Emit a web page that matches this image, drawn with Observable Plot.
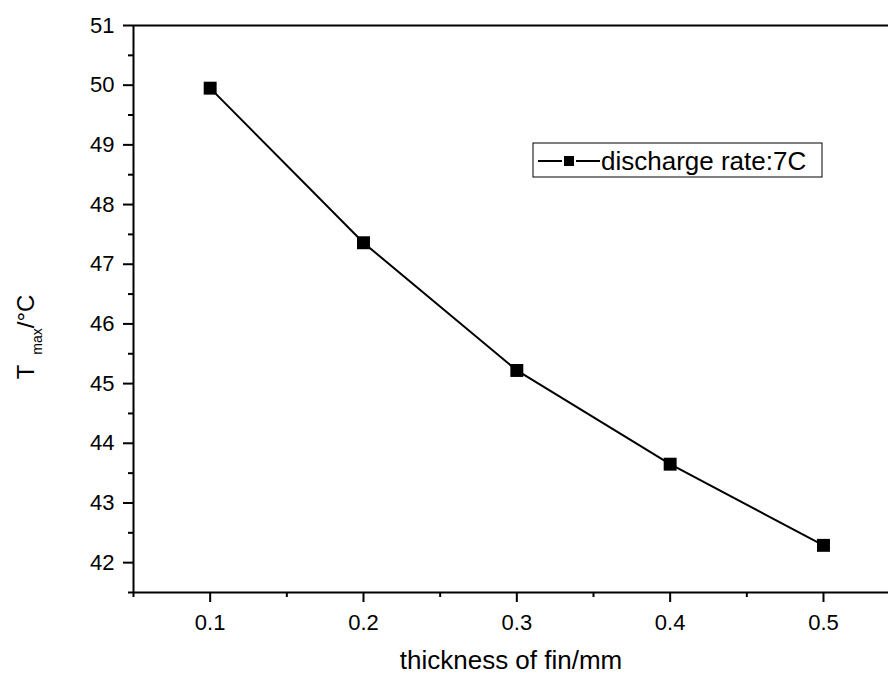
<!DOCTYPE html>
<html>
<head>
<meta charset="utf-8">
<script src="https://cdn.jsdelivr.net/npm/d3@7"></script>
<script src="https://cdn.jsdelivr.net/npm/@observablehq/plot@0.6"></script>
<style>
  html, body { margin: 0; padding: 0; background: #fff; }
  #chart { width: 888px; height: 675px; overflow: hidden; }
</style>
</head>
<body>
<div id="chart"></div>
<script>
// Data
const thickness = [0.1, 0.2, 0.3, 0.4, 0.5];
const tmax = [49.95, 47.36, 45.22, 43.65, 42.29];
const seriesName = "discharge rate:7C";

// Axis ticks
const xMajorTicks = [0.1, 0.2, 0.3, 0.4, 0.5];
const xMinorTicks = [0.05, 0.15, 0.25, 0.35, 0.45];
const yMajorTicks = [42, 43, 44, 45, 46, 47, 48, 49, 50, 51];
const yMinorTicks = [41.5, 42.5, 43.5, 44.5, 45.5, 46.5, 47.5, 48.5, 49.5, 50.5];
const xDomain = [0.05, 0.5424];
const yDomain = [41.5, 51];
const xTitle = "thickness of fin/mm";

const data = thickness.map((t, i) => ({thickness: t, tmax: tmax[i]}));
const font = "'Liberation Sans', Arial, sans-serif";

const plot = Plot.plot({
  width: 888,
  height: 675,
  marginLeft: 133,
  marginRight: 0,
  marginTop: 25,
  marginBottom: 83,
  style: {fontFamily: font, background: "#fff", color: "#000", overflow: "hidden"},
  x: {domain: xDomain},
  y: {domain: yDomain},
  marks: [
    Plot.ruleY([yDomain[0]], {stroke: "#000", strokeWidth: 2}),
    Plot.ruleY([yDomain[1]], {stroke: "#000", strokeWidth: 2}),
    Plot.ruleX([xDomain[0]], {stroke: "#000", strokeWidth: 2}),
    Plot.axisX({ticks: xMajorTicks, tickSize: 10, tickPadding: 12, strokeWidth: 2,
      tickFormat: d => d.toFixed(1), fontSize: 22, label: null}),
    Plot.axisX({ticks: xMinorTicks, tickSize: 5, strokeWidth: 2,
      tickFormat: () => "", label: null}),
    Plot.axisY({ticks: yMajorTicks, tickSize: 10, tickPadding: 9, strokeWidth: 2,
      tickFormat: d => String(d), fontSize: 22, label: null}),
    Plot.axisY({ticks: yMinorTicks, tickSize: 5, strokeWidth: 2,
      tickFormat: () => "", label: null}),
    Plot.line(data, {x: "thickness", y: "tmax", stroke: "#000", strokeWidth: 2}),
    Plot.dot(data, {x: "thickness", y: "tmax", symbol: "square", r: 7.3, fill: "#000", stroke: "none"}),
    Plot.text([xTitle], {frameAnchor: "bottom", dy: 68, fontSize: 26, lineAnchor: "middle", fill: "#000"})
  ]
});

document.getElementById("chart").appendChild(plot);

// Y axis title with subscript
const svg = d3.select(plot);
const yt = svg.append("text")
  .attr("transform", "translate(34,337) rotate(-90)")
  .attr("text-anchor", "middle")
  .attr("font-family", font)
  .attr("font-size", 24)
  .attr("fill", "#000");
yt.append("tspan").text("T");
yt.append("tspan").attr("dx", 10).attr("dy", 8).attr("font-size", 14).text("max");
yt.append("tspan").attr("dy", -8).text("/°C");

// Legend
const lg = svg.append("g");
lg.append("rect").attr("x", 533).attr("y", 143).attr("width", 289).attr("height", 34)
  .attr("fill", "#fff").attr("stroke", "#000").attr("stroke-width", 1);
lg.append("line").attr("x1", 538).attr("x2", 600).attr("y1", 161).attr("y2", 161)
  .attr("stroke", "#000").attr("stroke-width", 2);
lg.append("rect").attr("x", 563).attr("y", 155).attr("width", 12).attr("height", 12)
  .attr("fill", "#000").attr("stroke", "#fff").attr("stroke-width", 2);
lg.append("text").attr("x", 601).attr("y", 170)
  .attr("text-anchor", "start")
  .attr("font-family", font).attr("font-size", 26).attr("fill", "#000")
  .text(seriesName);
</script>
</body>
</html>
